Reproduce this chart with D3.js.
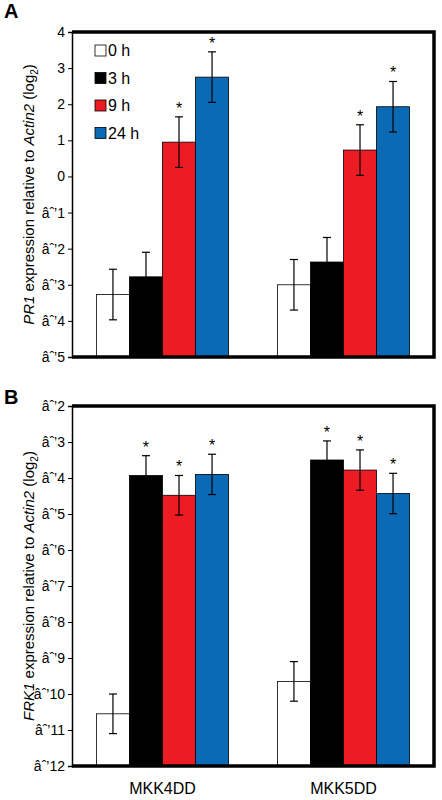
<!DOCTYPE html><html><head><script src="https://cdn.jsdelivr.net/npm/d3@7"></script>
<style>body{margin:0;background:#fff}</style></head><body><svg id="c" width="442" height="800"></svg>
<script>
const categories=["MKK4DD","MKK5DD"];
const series=["0 h","3 h","9 h","24 h"];
const colors=["#ffffff","#000000","#ed1c24","#0b6ab5"];
const prMean=[[-3.27,-2.78,0.95,2.75],[-3.0,-2.37,0.73,1.93]];
const prErr=[[0.7,0.68,0.7,0.7],[0.7,0.68,0.7,0.7]];
const prStar=[[0,0,1,1],[0,0,1,1]];
const frkMean=[[-10.55,-3.93,-4.48,-3.9],[-9.65,-3.5,-3.78,-4.43]];
const frkErr=[[0.55,0.55,0.55,0.56],[0.55,0.53,0.56,0.56]];
const frkStar=[[0,1,1,1],[0,1,1,1]];
const prTicks=[4,3,2,1,0,-1,-2,-3,-4,-5];
const frkTicks=[-2,-3,-4,-5,-6,-7,-8,-9,-10,-11,-12];
const svg=d3.select("#c");const F="Arial, Liberation Sans, sans-serif";
function panel(top,bot,dom,ticks,mean,err,star,gene,letter,ly,legend,xlab){
 const L=72,R=434;
 const y=d3.scaleLinear().domain(dom).range([bot,top]);
 const x0=d3.scaleBand().domain(categories).range([L,R]).paddingInner(0.27).paddingOuter(0.135);
 const x1=d3.scaleBand().domain(series).range([0,x0.bandwidth()]);
 const g=svg.append("g");
 g.append("text").attr("x",4).attr("y",ly).text(letter).attr("font-family",F).attr("font-weight","bold").attr("font-size",20);
 categories.forEach((c,ci)=>series.forEach((s,si)=>{
  const v=mean[ci][si],bx=x0(c)+x1(s),w=x1.bandwidth(),cx=bx+w/2;
  g.append("rect").attr("x",bx).attr("y",y(v)).attr("width",w).attr("height",bot-y(v)).attr("fill",colors[si]).attr("stroke","#000").attr("stroke-width",0.8);
  const e=err[ci][si];
  g.append("line").attr("x1",cx).attr("x2",cx).attr("y1",y(v-e)).attr("y2",y(v+e)).attr("stroke","#000").attr("stroke-width",1.2);
  [v-e,v+e].forEach(t=>g.append("line").attr("x1",cx-4).attr("x2",cx+4).attr("y1",y(t)).attr("y2",y(t)).attr("stroke","#000").attr("stroke-width",1.2));
  if(star[ci][si])g.append("text").attr("x",cx).attr("y",y(v+e)-3).attr("text-anchor","middle").text("*").attr("font-family",F).attr("font-size",16);
 }));
 const ax=g.append("g").attr("transform",`translate(${L},0)`).call(d3.axisLeft(y).tickValues(ticks).tickSize(4).tickFormat(d3.format("d")));
 ax.selectAll("text").attr("font-family",F).attr("font-size",14).attr("fill","#000");
 ax.select(".domain").attr("stroke-width",1.5);
 g.append("path").attr("d",`M${L},${top}H${R}V${bot}H${L}`).attr("fill","none").attr("stroke","#000").attr("stroke-width",3.5);
 const t=g.append("text").attr("transform",`translate(34,${(top+bot)/2}) rotate(-90)`).attr("text-anchor","middle").attr("font-family",F).attr("font-size",15);
 t.append("tspan").attr("font-style","italic").text(gene);t.append("tspan").text(" expression relative to ");
 t.append("tspan").attr("font-style","italic").text("Actin2");t.append("tspan").text(" (log");
 t.append("tspan").attr("font-size",10).attr("dy",4).text("2");t.append("tspan").attr("dy",-4).text(")");
 if(legend)series.forEach((s,i)=>{const yy=45+i*27.5;
  g.append("rect").attr("x",95).attr("y",yy).attr("width",11).attr("height",11).attr("fill",colors[i]).attr("stroke","#000").attr("stroke-width",0.8);
  g.append("text").attr("x",108).attr("y",yy+11).text(s).attr("font-family",F).attr("font-size",16);});
 if(xlab)categories.forEach(c=>g.append("text").attr("x",x0(c)+x0.bandwidth()/2).attr("y",bot+28).attr("text-anchor","middle").text(c).attr("font-family",F).attr("font-size",16));
}
panel(32,357,[-5,4],prTicks,prMean,prErr,prStar,"PR1","A",18,true,false);
panel(406,766,[-12,-2],frkTicks,frkMean,frkErr,frkStar,"FRK1","B",404,false,true);
</script></body></html>
